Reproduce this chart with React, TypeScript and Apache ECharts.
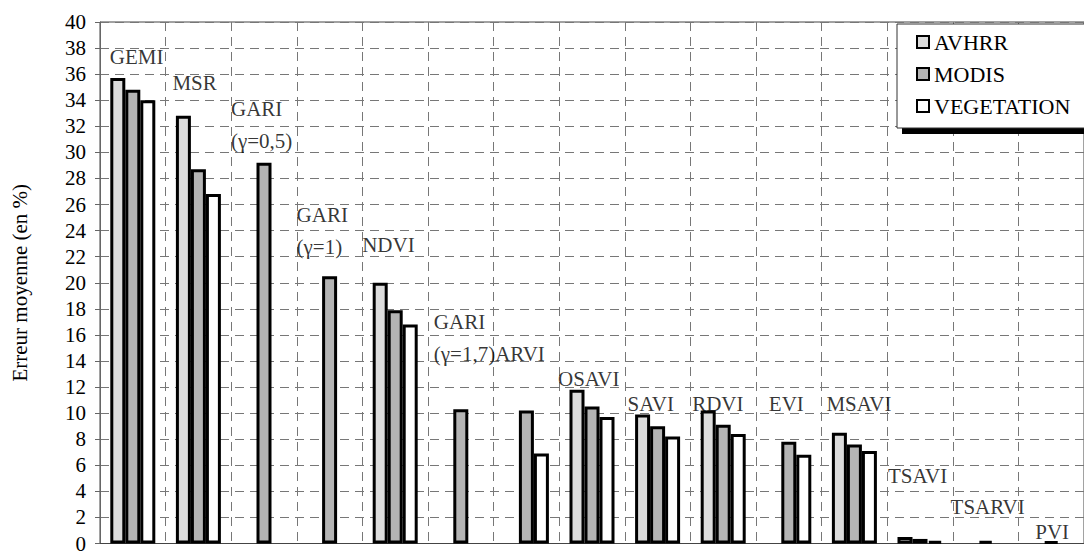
import { useEffect, useRef } from "react";
import * as echarts from "echarts";

const categories = [
  "GEMI", "MSR", "GARI (γ=0,5)", "GARI (γ=1)", "NDVI", "GARI (γ=1,7)", "ARVI",
  "OSAVI", "SAVI", "RDVI", "EVI", "MSAVI", "TSAVI", "TSARVI", "PVI",
];
const avhrr = [35.7, 32.8, null, null, 20.0, null, null, 11.8, 9.9, 10.2, null, 8.5, 0.5, null, null];
const modis = [34.8, 28.7, 29.2, 20.5, 17.9, 10.3, 10.2, 10.5, 9.0, 9.1, 7.8, 7.6, 0.35, 0.2, 0.15];
const vegetation = [34.0, 26.8, null, null, 16.8, null, 6.9, 9.7, 8.2, 8.4, 6.8, 7.1, 0.2, null, null];

const yMin = 0;
const yMax = 40;
const yInterval = 2;

// group annotation texts, the category they sit in and their height (in %)
const labelTexts = ["GEMI", "MSR", "GARI\n(γ=0,5)", "GARI\n(γ=1)", "NDVI", "GARI\n(γ=1,7)ARVI", "OSAVI", "SAVI", "RDVI", "EVI", "MSAVI", "TSAVI", "TSARVI", "PVI"];
const labelCategory = [0, 1, 2, 3, 4, 5, 7, 8, 9, 10, 11, 12, 13, 14];
const labelValue = [37.3, 35.3, 32.1, 24.0, 22.9, 15.8, 12.6, 10.7, 10.7, 10.7, 10.7, 5.2, 2.8, 0.85];
// horizontal shift of each annotation from its category centre (px)
const labelShift = [-23, -26, -33, -33, -33, -27, -34, -30, -31, -20, -28, -32, -35, -16];

const FONT = "Liberation Serif";

export default function App() {
  const ref = useRef<HTMLDivElement>(null);
  useEffect(() => {
    if (!ref.current) return;
    const chart = echarts.init(ref.current, undefined, { renderer: "svg" });
    const barBase = {
      type: "bar" as const,
      barWidth: 15,
      barGap: "0%",
      z: 2,
    };
    const border = { borderColor: "#000", borderWidth: 3 };
    chart.setOption({
      animation: false,
      backgroundColor: "#fff",
      textStyle: { fontFamily: FONT, color: "#000" },
      grid: { left: 100, top: 22, width: 990, height: 526, show: true, borderColor: "#444", borderWidth: 1 },
      legend: {
        data: ["AVHRR", "MODIS", "VEGETATION"],
        orient: "vertical",
        left: 911,
        top: 26,
        itemWidth: 12,
        itemHeight: 12,
        itemGap: 10,
        icon: "rect",
        z: 5,
        textStyle: { fontFamily: FONT, fontSize: 22, color: "#000" },
      },
      graphic: [
        { type: "rect", z: 3, shape: { x: 902, y: 30, width: 200, height: 104 }, style: { fill: "#000" } },
        { type: "rect", z: 3, shape: { x: 897, y: 24, width: 200, height: 104 }, style: { fill: "#fff", stroke: "#333", lineWidth: 1 } },
      ],
      xAxis: {
        type: "category",
        data: categories,
        boundaryGap: true,
        axisLine: { show: true, lineStyle: { color: "#444", width: 1 } },
        axisTick: { show: false },
        axisLabel: { show: false },
        splitLine: { show: true, interval: 0, lineStyle: { color: "#777", type: [9, 6], width: 1 } },
      },
      yAxis: {
        type: "value",
        min: yMin,
        max: yMax,
        interval: yInterval,
        name: "Erreur moyenne (en %)",
        nameLocation: "middle",
        nameGap: 70,
        nameTextStyle: { fontFamily: FONT, fontSize: 21, color: "#000" },
        axisLine: { show: true, lineStyle: { color: "#666", width: 1 } },
        axisTick: { show: true, length: 5, lineStyle: { color: "#666" } },
        axisLabel: { fontFamily: FONT, fontSize: 21, color: "#000", margin: 14 },
        splitLine: { show: true, lineStyle: { color: "#777", type: [9, 6], width: 1 } },
      },
      series: [
        { ...barBase, name: "AVHRR", data: avhrr, itemStyle: { color: "#dcdcdc", ...border } },
        { ...barBase, name: "MODIS", data: modis, itemStyle: { color: "#b4b4b4", ...border } },
        { ...barBase, name: "VEGETATION", data: vegetation, itemStyle: { color: "#ffffff", ...border } },
        {
          type: "scatter",
          name: "labels",
          symbolSize: 0,
          z: 4,
          silent: true,
          data: labelCategory.map((c, i) => ({
            value: [c, labelValue[i]],
            label: { offset: [labelShift[i], 0] },
          })),
          label: {
            show: true,
            position: "inside",
            align: "left",
            verticalAlign: "middle",
            fontFamily: FONT,
            fontSize: 21,
            lineHeight: 32,
            color: "#000",
            formatter: (p: any) => labelTexts[p.dataIndex],
          },
        },
      ],
    });
    return () => chart.dispose();
  }, []);
  return <div ref={ref} style={{ position: "fixed", left: 0, top: 0, width: 1084, height: 554 }} />;
}
